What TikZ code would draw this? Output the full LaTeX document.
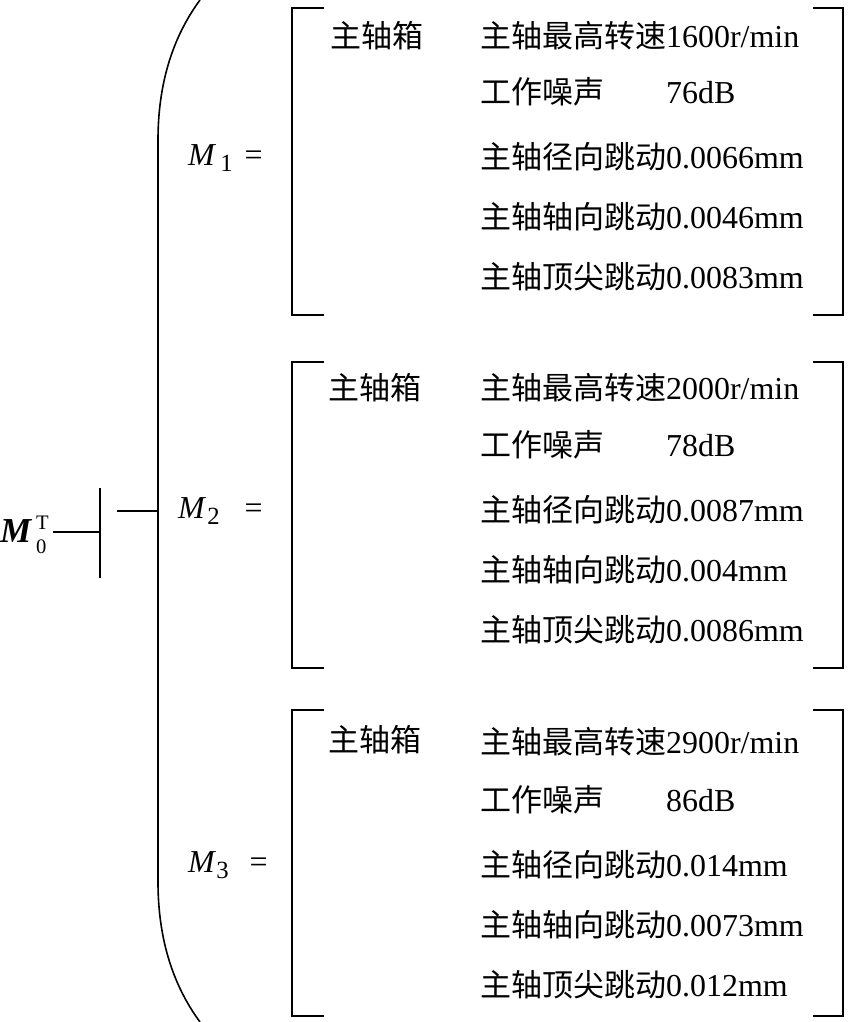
\documentclass[tikz,border=0pt]{standalone}
\usepackage{fontspec}
\setmainfont{Liberation Serif}[Scale=1.03]
\newfontfamily\cjk{Noto Sans CJK SC}
\usetikzlibrary{positioning}

\newcommand{\zh}[1]{{\cjk #1}}
\newcommand{\noise}[1]{\makebox[186pt][l]{\zh{工作噪声}}#1}
\newcommand{\idx}[1]{\raisebox{-6pt}{\fontsize{24}{24}\selectfont #1}}

\tikzset{
  txt/.style={anchor=west,inner sep=0pt,font=\fontsize{31}{36}\selectfont},
  lbl/.style={txt,anchor=base west},
  tiny/.style={lbl,font=\fontsize{20}{20}\selectfont},
  rule/.style={line width=1.6pt,color=black},
}

\begin{document}
\begin{tikzpicture}[x=1pt,y=-1pt]
  \useasboundingbox (0,0) rectangle (847,1022);

  % root and the two short links
  \node [lbl,font=\fontsize{34}{38}\selectfont] (m0) at (0,542) {\textbf{\textit{M}}};
  \node [tiny] (m0sup) at (36,529) {T};
  \node [tiny] (m0sub) at (36,553) {0};
  \coordinate (jn) at (100,532);
  \coordinate (bartop) at (100,488);
  \coordinate (barbot) at (100,578);
  \coordinate (stub) at (117,511);
  \coordinate (brace) at (158,511);
  \draw [rule] (53,532) -- (jn);
  \draw [rule] (bartop) -- (barbot);
  \draw [rule] (stub) -- (brace);

  % big brace
  \draw [rule] (200,0) .. controls (172,38) and (158,85) .. (158,140)
    -- (158,882) .. controls (158,937) and (172,984) .. (200,1022);

  % labels
  \node [lbl] (m1) at (188,165) {\textit{M}\hspace{4pt}\idx{1}\hspace{12pt}=};
  \node [lbl] (m2) at (178,518) {\textit{M}\hspace{1pt}\idx{2}\hspace{25pt}=};
  \node [lbl] (m3) at (188,872) {\textit{M}\hspace{0pt}\idx{3}\hspace{21pt}=};

  % brackets
  \draw [rule] (324,8) -- (292,8) -- (292,315) -- (324,315);
  \draw [rule] (813,8) -- (843,8) -- (843,315) -- (813,315);
  \draw [rule] (324,362) -- (292,362) -- (292,668) -- (324,668);
  \draw [rule] (813,362) -- (843,362) -- (843,668) -- (813,668);
  \draw [rule] (324,710) -- (292,710) -- (292,1016) -- (324,1016);
  \draw [rule] (813,710) -- (843,710) -- (843,1016) -- (813,1016);

  % first spindle box
  \node [txt] (box1) at (330,36) {\zh{主轴箱}};
  \node [txt] (speed1) at (480,36) {\zh{主轴最高转速}1600r/min};
  \node [txt] (noise1) at (480,92) {\noise{76dB}};
  \node [txt] (radial1) at (480,157) {\zh{主轴径向跳动}0.0066mm};
  \node [txt] (axial1) at (480,217) {\zh{主轴轴向跳动}0.0046mm};
  \node [txt] (tip1) at (480,277) {\zh{主轴顶尖跳动}0.0083mm};

  % second spindle box
  \node [txt] (box2) at (328,388) {\zh{主轴箱}};
  \node [txt] (speed2) at (480,388) {\zh{主轴最高转速}2000r/min};
  \node [txt] (noise2) at (480,445) {\noise{78dB}};
  \node [txt] (radial2) at (480,510) {\zh{主轴径向跳动}0.0087mm};
  \node [txt] (axial2) at (480,570) {\zh{主轴轴向跳动}0.004mm};
  \node [txt] (tip2) at (480,630) {\zh{主轴顶尖跳动}0.0086mm};

  % third spindle box
  \node [txt] (box3) at (328,740) {\zh{主轴箱}};
  \node [txt] (speed3) at (480,742) {\zh{主轴最高转速}2900r/min};
  \node [txt] (noise3) at (480,800) {\noise{86dB}};
  \node [txt] (radial3) at (480,865) {\zh{主轴径向跳动}0.014mm};
  \node [txt] (axial3) at (480,925) {\zh{主轴轴向跳动}0.0073mm};
  \node [txt] (tip3) at (480,985) {\zh{主轴顶尖跳动}0.012mm};

\end{tikzpicture}
\end{document}
